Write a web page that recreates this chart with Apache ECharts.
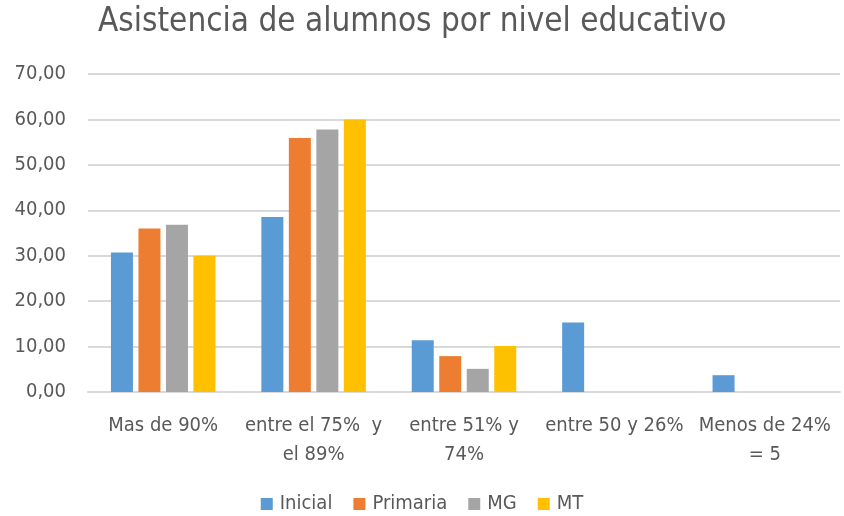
<!DOCTYPE html>
<html>
<head>
<meta charset="utf-8">
<script src="https://cdn.jsdelivr.net/npm/echarts@6/dist/echarts.min.js"></script>
<style>
  html, body { margin: 0; padding: 0; background: #fff; }
  #chart { width: 844px; height: 516px; }
</style>
</head>
<body>
<div id="chart"></div>
<script>
// categories and series values
const categories = ['Mas de 90%', 'entre el 75%  y\nel 89%', 'entre 51% y\n74%', 'entre 50 y 26%', 'Menos de 24%\n= 5']
const inicial = [30.7, 38.5, 11.4, 15.3, 3.7]
const primaria = [36.0, 55.9, 7.9, 0, 0]
const mg = [36.8, 57.8, 5.1, 0, 0]
const mt = [30.0, 60.0, 10.1, 0, 0]
const seriesNames = ['Inicial', 'Primaria', 'MG', 'MT']
const colors = ['#5b9bd5', '#ed7d31', '#a5a5a5', '#ffc000']

const font = "'Liberation Sans Narrow', 'DejaVu Sans Condensed', sans-serif"
const chart = echarts.init(document.getElementById('chart'))

const makeBar = (name, data, i) => ({
  name: name,
  type: 'bar',
  data: data,
  barWidth: 22,
  barGap: '25%',
  itemStyle: { color: colors[i] },
  animation: false
})

chart.setOption({
  title: {
    text: 'Asistencia de alumnos por nivel educativo',
    left: 93,
    top: 1,
    textStyle: { fontFamily: font, fontSize: 33, fontWeight: 'normal', color: '#595959' }
  },
  legend: {
    data: seriesNames,
    bottom: 2,
    left: 'center',
    padding: 0,
    itemWidth: 12,
    itemHeight: 12,
    itemGap: 21,
    icon: 'rect',
    textStyle: { fontFamily: font, fontSize: 20, color: '#595959', padding: [0, 0, 0, 2] }
  },
  grid: {
    left: 88,
    right: 4,
    top: 74,
    bottom: 124
  },
  xAxis: {
    type: 'category',
    data: categories,
    axisLine: { lineStyle: { color: '#d9d9d9', width: 2 } },
    axisTick: { show: false },
    axisLabel: {
      interval: 0,
      margin: 19,
      lineHeight: 29,
      fontFamily: font,
      fontSize: 20,
      color: '#595959'
    }
  },
  yAxis: {
    type: 'value',
    min: 0,
    max: 70,
    interval: 10,
    axisLine: { show: false },
    axisTick: { show: false },
    splitLine: { lineStyle: { color: '#d9d9d9', width: 2 } },
    axisLabel: {
      margin: 22,
      fontFamily: font,
      fontSize: 20,
      color: '#595959',
      formatter: v => v.toFixed(2).replace('.', ',')
    }
  },
  series: [
    makeBar('Inicial', inicial, 0),
    makeBar('Primaria', primaria, 1),
    makeBar('MG', mg, 2),
    makeBar('MT', mt, 3)
  ]
})
</script>
</body>
</html>
